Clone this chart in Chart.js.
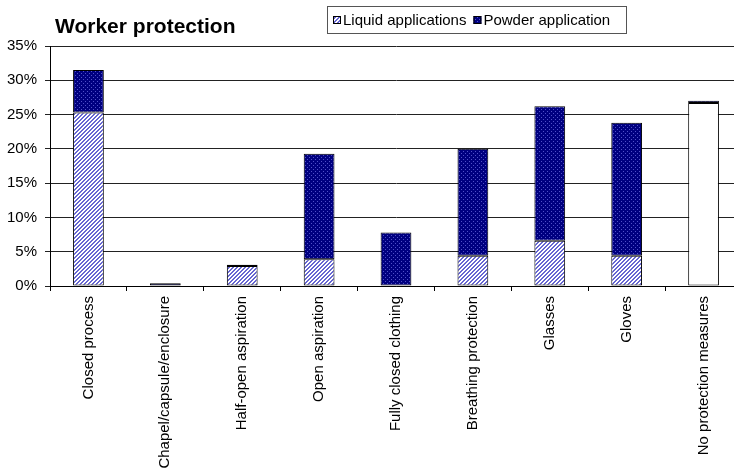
<!DOCTYPE html>
<html>
<head>
<meta charset="utf-8">
<script src="https://cdn.jsdelivr.net/npm/chart.js@4/dist/chart.umd.min.js"></script>
<style>
  html, body { margin: 0; padding: 0; background: #fff; overflow: hidden; width: 734px; height: 473px; }
  #wrap { position: relative; width: 760px; height: 473px; }
</style>
</head>
<body>
<div id="wrap"><canvas id="c"></canvas></div>
<script>
const chartTitle = 'Worker protection';
const categories = [
  'Closed process',
  'Chapel/capsule/enclosure',
  'Half-open aspiration',
  'Open aspiration',
  'Fully closed clothing',
  'Breathing protection',
  'Glasses',
  'Gloves',
  'No protection measures'
];
const seriesNames = ['Liquid applications', 'Powder application'];
// shares in percent
const liquidValues = [25.3, 0, 2.9, 3.9, 0, 4.4, 6.6, 4.4, 26.7];
const powderValues = [6.2, 0.4, 0.2, 15.4, 7.8, 15.6, 19.6, 19.4, 0.3];
const yTicks = [0, 5, 10, 15, 20, 25, 30, 35];

const FONT = '"Liberation Sans", Arial, sans-serif';

function makePattern(draw) {
  const c = document.createElement('canvas');
  c.width = 4; c.height = 4;
  const g = c.getContext('2d');
  draw(g);
  return g.createPattern(c, 'repeat');
}
// diagonal hatch for liquid
const liquidFill = makePattern(g => {
  g.fillStyle = '#ffffff';
  g.fillRect(0, 0, 4, 4);
  g.fillStyle = '#6666d2';
  for (let i = 0; i < 4; i++) {
    g.fillRect(i, (3 - i + 4) % 4, 1, 1);
    g.fillRect(i, (4 - i + 4) % 4, 1, 1);
  }
});
// dotted navy for powder
const powderFill = makePattern(g => {
  g.fillStyle = '#000080';
  g.fillRect(0, 0, 4, 4);
  g.fillStyle = '#5050c8';
  g.fillRect(1, 1, 1, 1);
  g.fillRect(3, 3, 1, 1);
});

const liquidColors = categories.map((c, i) => i === categories.length - 1 ? '#ffffff' : liquidFill);

// title and boxed legend drawn over the top strip
const headerPlugin = {
  id: 'header',
  afterDraw(chart) {
    const ctx = chart.ctx;
    ctx.save();
    ctx.fillStyle = '#000';
    ctx.font = 'bold 21px ' + FONT;
    ctx.textBaseline = 'alphabetic';
    ctx.textAlign = 'left';
    ctx.fillText(chartTitle, 55, 33);

    // legend frame
    const bx = 327.5, by = 6.5, bw = 299, bh = 27;
    ctx.strokeStyle = '#555';
    ctx.lineWidth = 1;
    ctx.strokeRect(bx, by, bw, bh);

    ctx.font = '15px ' + FONT;
    ctx.textBaseline = 'middle';
    const fills = [liquidFill, powderFill];
    let x = 333;
    const cy = 20;
    seriesNames.forEach((name, i) => {
      ctx.fillStyle = fills[i];
      ctx.fillRect(x, cy - 4, 8, 8);
      ctx.strokeStyle = '#000';
      ctx.strokeRect(x + 0.5, cy - 3.5, 7, 7);
      ctx.fillStyle = '#000';
      ctx.fillText(name, x + 10, cy + 1);
      x += 10 + ctx.measureText(name).width + 7;
    });
    ctx.restore();
  }
};

new Chart(document.getElementById('c'), {
  type: 'bar',
  data: {
    labels: categories,
    datasets: [
      {
        label: seriesNames[0],
        data: liquidValues,
        backgroundColor: liquidColors,
        borderColor: '#000',
        borderWidth: 1,
        borderSkipped: false
      },
      {
        label: seriesNames[1],
        data: powderValues,
        backgroundColor: powderFill,
        borderColor: '#000',
        borderWidth: 1,
        borderSkipped: false
      }
    ]
  },
  options: {
    responsive: true,
    maintainAspectRatio: false,
    animation: false,
    devicePixelRatio: 1,
    layout: { padding: { top: 46, right: 18, left: 0, bottom: 0 } },
    datasets: { bar: { categoryPercentage: 1, barPercentage: 0.4 } },
    plugins: {
      legend: { display: false },
      title: { display: false },
      tooltip: { enabled: false }
    },
    scales: {
      x: {
        stacked: true,
        offset: true,
        grid: { display: true, drawOnChartArea: false, drawTicks: true, tickLength: 5, color: '#000', offset: true },
        border: { color: '#000', width: 1 },
        ticks: {
          autoSkip: false, maxRotation: 90, minRotation: 90,
          color: '#000', font: { family: FONT, size: 15 }, padding: 5
        },
        afterFit(s) { s.height = 187; }
      },
      y: {
        stacked: true,
        min: yTicks[0],
        max: yTicks[yTicks.length - 1],
        afterBuildTicks(s) { s.ticks = yTicks.map(v => ({ value: v })); },
        grid: { color: '#222', lineWidth: 1, tickLength: 5 },
        border: { color: '#000', width: 1 },
        ticks: {
          color: '#000', font: { family: FONT, size: 15 }, padding: 8,
          callback: v => v + '%'
        },
        afterFit(s) { s.width = 50; }
      }
    }
  },
  plugins: [headerPlugin]
});
</script>
</body>
</html>
